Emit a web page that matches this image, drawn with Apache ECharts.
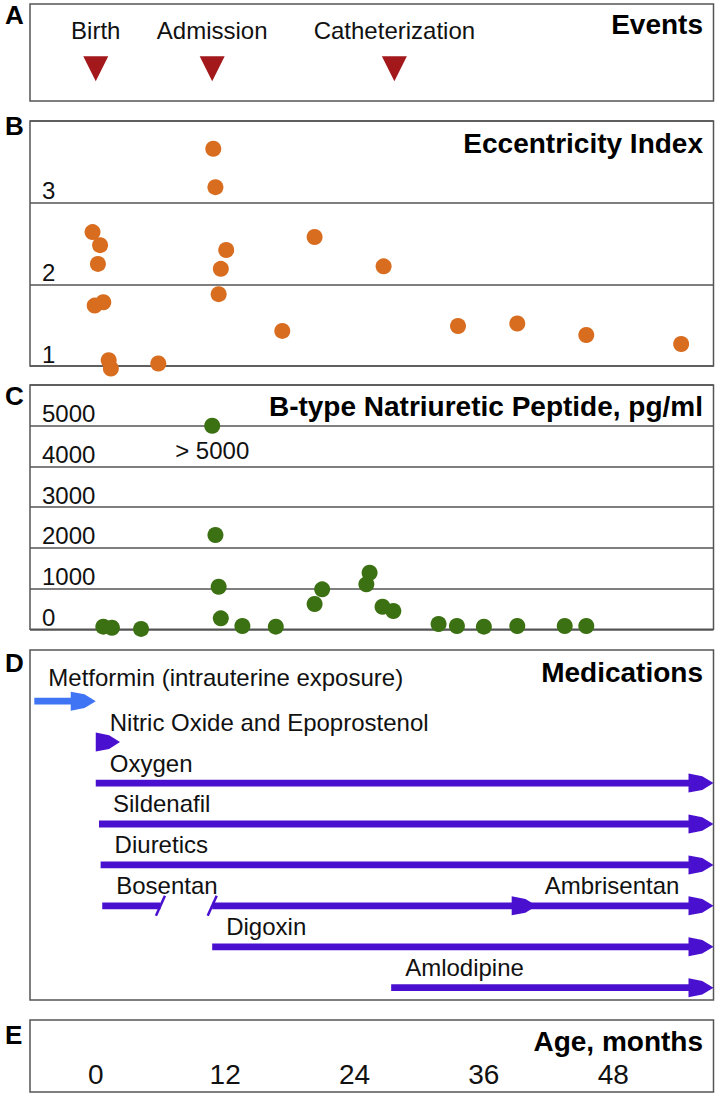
<!DOCTYPE html>
<html>
<head>
<meta charset="utf-8">
<script src="https://cdn.jsdelivr.net/npm/echarts@6/dist/echarts.min.js"></script>
<style>
html,body{margin:0;padding:0;background:#fff;}
#chart{width:719px;height:1096px;}
</style>
</head>
<body>
<div id="chart"></div>
<script>
// ---------------- DATA ----------------
const eventNames = ['Birth', 'Admission', 'Catheterization'];
const eventMonths = [0, 10.8, 27.7];

const eiMonths = [-0.3, 0.4, 0.2, -0.1, 0.7, 1.2, 1.4, 5.8, 10.9, 11.1, 12.1, 11.6, 11.4, 17.3, 20.3, 26.7, 33.6, 39.1, 45.5, 54.3];
const eiValues = [2.64, 2.48, 2.25, 1.74, 1.78, 1.07, 0.97, 1.03, 3.66, 3.19, 2.42, 2.19, 1.88, 1.43, 2.58, 2.22, 1.49, 1.52, 1.38, 1.27];
const eiTicks = [1, 2, 3];

const bnpMonths = [0.7, 1.5, 4.2, 10.8, 11.1, 11.4, 11.6, 13.6, 16.7, 20.3, 21.0, 25.1, 25.4, 26.6, 27.6, 31.8, 33.5, 36.0, 39.1, 43.5, 45.5];
const bnpValues = [64, 39, 10, 5000, 2316, 1046, 270, 81, 64, 621, 982, 1105, 1390, 555, 449, 130, 81, 64, 81, 81, 81];
const bnpTicks = [0, 1000, 2000, 3000, 4000, 5000];
const bnpCap = 5000;
const bnpCapLabel = '> 5000';

const medNames = ['Metformin (intrauterine exposure)', 'Nitric Oxide and Epoprostenol', 'Oxygen', 'Sildenafil', 'Diuretics', 'Bosentan', '', 'Ambrisentan', 'Digoxin', 'Amlodipine'];
const medRow = [0, 1, 2, 3, 4, 5, 5, 5, 6, 7];
const medStart = [-5.7, 0, 0, 0.3, 0.45, 0.6, 10.8, 40.9, 10.8, 27.4];
const medEnd = [0, 2.25, null, null, null, 6.0, 40.9, null, null, null]; // null = ongoing
const medKind = ['arrow', 'head', 'arrow', 'arrow', 'arrow', 'stopped', 'resumed', 'switched', 'arrow', 'arrow'];
const medExposure = ['intrauterine', 'postnatal', 'postnatal', 'postnatal', 'postnatal', 'postnatal', 'postnatal', 'postnatal', 'postnatal', 'postnatal'];

const ageTicks = [0, 12, 24, 36, 48];
const panelLetters = ['A', 'B', 'C', 'D', 'E'];
const panelTitles = ['Events', 'Eccentricity Index', 'B-type Natriuretic Peptide, pg/ml', 'Medications', 'Age, months'];

// ---------------- LAYOUT / STYLE ----------------
const FONT = "'Liberation Sans', Arial, Helvetica, sans-serif";
const GL = 30, GW = 683.5;
const XMIN = -6.1, XMAX = 57.3;
const gridBoxes = [
  { top: 4, height: 97 },
  { top: 121, height: 245 },
  { top: 385, height: 244.3 },
  { top: 650, height: 350 },
  { top: 1020, height: 72 }
];
const letterCenters = [15, 126, 396, 663, 1035];
const titleCenters = [24, 143, 406, 672, 1041];
const LINE = '#555555';
const TXT = '#111111';

const chart = echarts.init(document.getElementById('chart'), null, { renderer: 'svg', width: 719, height: 1096 });

const grid = gridBoxes.map(g => ({
  left: GL, width: GW, top: g.top, height: g.height,
  show: true, borderColor: LINE, borderWidth: 1.5, backgroundColor: 'transparent'
}));

const xAxis = gridBoxes.map((g, i) => ({
  type: 'value', gridIndex: i, min: XMIN, max: XMAX,
  show: i === 4,
  axisLine: { show: false }, axisTick: { show: false }, splitLine: { show: false },
  axisLabel: {
    show: i === 4, inside: true, customValues: ageTicks, margin: 4,
    fontSize: 28, fontFamily: FONT, color: TXT, formatter: v => String(v)
  }
}));

const tickLabelStyle = {
  inside: true, margin: 12, verticalAlign: 'bottom', lineHeight: 24,
  fontSize: 24, fontFamily: FONT, color: TXT, formatter: v => String(v)
};
const yAxis = [
  { type: 'value', gridIndex: 0, min: -1, max: 2, show: false },
  { type: 'value', gridIndex: 1, min: 1, max: 4, interval: 1,
    axisLine: { show: false }, axisTick: { show: false },
    axisLabel: Object.assign({ customValues: eiTicks }, tickLabelStyle),
    splitLine: { show: true, lineStyle: { color: LINE, width: 1.5 } } },
  { type: 'value', gridIndex: 2, min: 0, max: 6000, interval: 1000,
    axisLine: { show: false }, axisTick: { show: false },
    axisLabel: Object.assign({ customValues: bnpTicks }, tickLabelStyle),
    splitLine: { show: true, lineStyle: { color: LINE, width: 1.5 } } },
  { type: 'value', gridIndex: 3, min: -1.25, max: 7.3, inverse: true, show: false },
  { type: 'value', gridIndex: 4, min: 0, max: 1, show: false }
];

const title = [];
panelLetters.forEach((t, i) => title.push({
  text: t, left: 5, top: letterCenters[i] - 13, padding: 0,
  textStyle: { fontSize: 26, fontWeight: 'bold', fontFamily: FONT, color: '#000', lineHeight: 26 }
}));
panelTitles.forEach((t, i) => title.push({
  text: t, right: 16, top: titleCenters[i] - 14, padding: 0,
  textStyle: { fontSize: 28, fontWeight: 'bold', fontFamily: FONT, color: '#000', lineHeight: 28 }
}));

const SHAFT = 3.4, HL = 25, HH = 9.5;
function headPoints(x0, x1, y) {
  const L = x1 - x0;
  return [[x0, y - HH], [x1 - L * 0.45, y - HH * 0.72], [x1, y], [x1 - L * 0.45, y + HH * 0.72], [x0, y + HH]];
}
function slash(x, y, color) {
  return { type: 'line', shape: { x1: x + 4.5, y1: y - 10, x2: x - 4.5, y2: y + 10 },
           style: { stroke: color, lineWidth: 2.5 } };
}

function renderMed(params, api) {
  const i = params.dataIndex;
  const row = api.value(1);
  const s = api.coord([api.value(0), row]);
  const e = api.coord([api.value(2), row]);
  const y = s[1];
  const color = medExposure[i] === 'intrauterine' ? '#3F74F4' : '#4A10CF';
  const kind = medKind[i];
  const children = [];
  if (kind === 'head') {
    children.push({ type: 'polygon', shape: { points: headPoints(s[0], e[0], y) }, style: { fill: color } });
  } else {
    const hasHead = kind !== 'stopped';
    const shaftStart = kind === 'switched' ? s[0] - HL * 0.6 : s[0];
    const shaftEnd = hasHead ? e[0] - HL + 2 : e[0];
    children.push({ type: 'rect', shape: { x: shaftStart, y: y - SHAFT, width: shaftEnd - shaftStart, height: SHAFT * 2 },
                    style: { fill: color } });
    if (hasHead) {
      children.push({ type: 'polygon', shape: { points: headPoints(e[0] - HL, e[0], y) }, style: { fill: color } });
    }
    if (kind === 'stopped') children.push(slash(e[0], y, color));
    if (kind === 'resumed') children.push(slash(s[0], y, color));
  }
  if (medNames[i]) {
    const dy = medExposure[i] === 'intrauterine' ? 24 : 20;
    children.push({ type: 'text', x: s[0] + (kind === 'switched' ? 8 : 14), y: y - dy,
      style: { text: medNames[i], fill: TXT, fontSize: 24, fontFamily: FONT, align: 'left', verticalAlign: 'middle' } });
  }
  return { type: 'group', children };
}

const series = [
  {
    type: 'scatter', xAxisIndex: 0, yAxisIndex: 0,
    symbol: 'triangle', symbolRotate: 180, symbolSize: [25, 25],
    itemStyle: { color: '#A2181B', opacity: 1 },
    label: { show: true, position: 'top', distance: 14, formatter: '{b}',
             fontSize: 24, lineHeight: 24, fontFamily: FONT, color: TXT },
    data: eventMonths.map((m, i) => ({ name: eventNames[i], value: [m, 0] }))
  },
  {
    type: 'scatter', xAxisIndex: 1, yAxisIndex: 1, clip: false,
    symbolSize: 16, itemStyle: { color: '#D86D20', opacity: 1 },
    data: eiMonths.map((m, i) => [m, eiValues[i]])
  },
  {
    type: 'scatter', xAxisIndex: 2, yAxisIndex: 2, clip: false,
    symbolSize: 16, itemStyle: { color: '#3B7013', opacity: 1 },
    data: bnpMonths.map((m, i) => {
      const item = { value: [m, bnpValues[i]] };
      if (bnpValues[i] >= bnpCap) {
        item.label = { show: true, position: 'bottom', distance: 5, formatter: bnpCapLabel,
                       fontSize: 24, lineHeight: 24, fontFamily: FONT, color: TXT };
      }
      return item;
    })
  },
  {
    type: 'custom', xAxisIndex: 3, yAxisIndex: 3, clip: false,
    renderItem: renderMed,
    data: medNames.map((n, i) => [medStart[i], medRow[i], medEnd[i] == null ? XMAX : medEnd[i]])
  }
];

chart.setOption({ animation: false, backgroundColor: '#fff', title, grid, xAxis, yAxis, series });
</script>
</body>
</html>
